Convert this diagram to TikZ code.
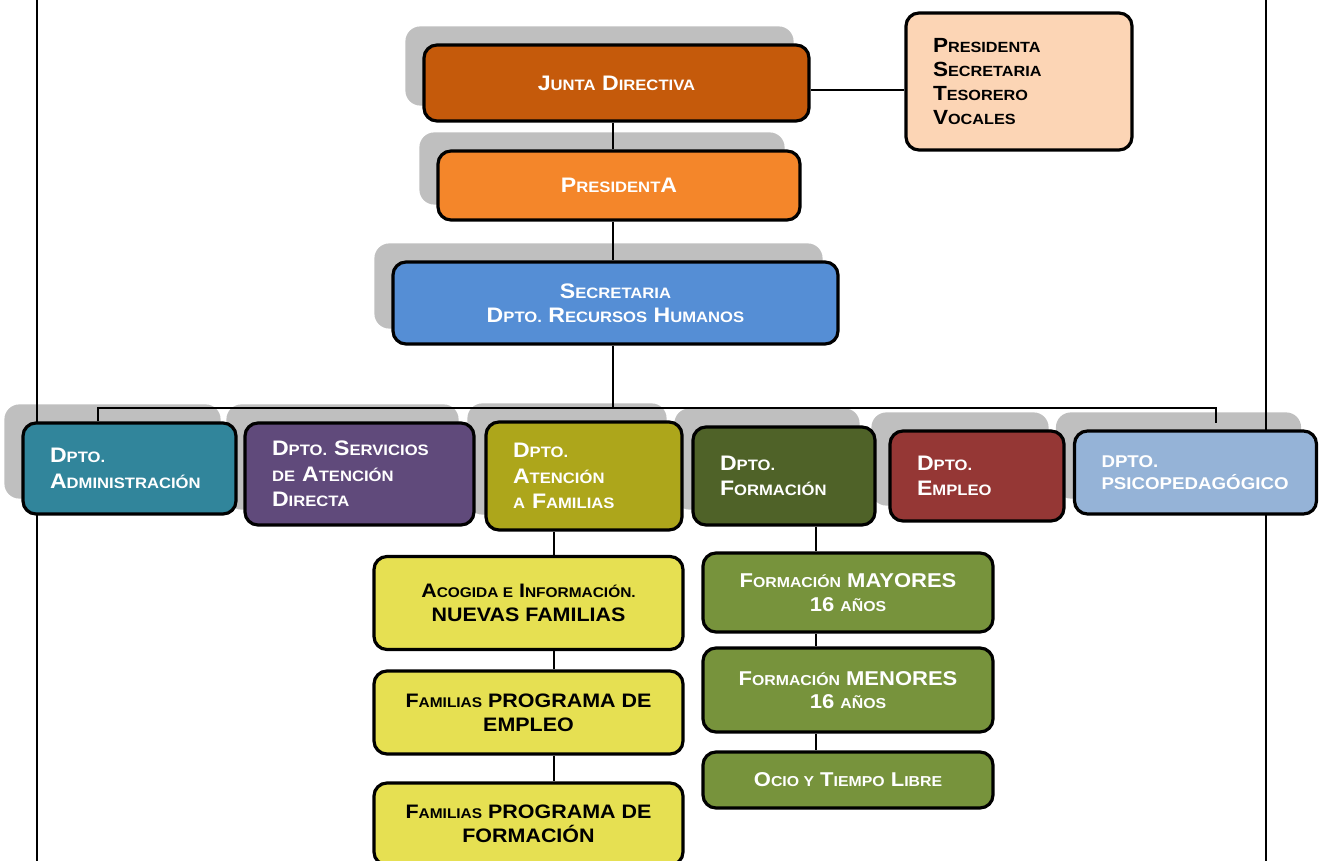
\documentclass[tikz,border=0pt]{standalone}
\usepackage{fontspec}
\usepackage{graphicx}
\setmainfont{Liberation Sans}[FakeStretch=1.1]
\usetikzlibrary{backgrounds}
\definecolor{cJunta}{HTML}{C55A0B}
\definecolor{cPres}{HTML}{F4862A}
\definecolor{cSecr}{HTML}{558ED5}
\definecolor{cPeach}{HTML}{FCD5B5}
\definecolor{cAdmin}{HTML}{31859B}
\definecolor{cServ}{HTML}{604A7B}
\definecolor{cAten}{HTML}{ADA61B}
\definecolor{cForm}{HTML}{4F6228}
\definecolor{cEmpl}{HTML}{953735}
\definecolor{cPsic}{HTML}{95B3D7}
\definecolor{cYel}{HTML}{E6E052}
\definecolor{cGreen}{HTML}{77933C}
\definecolor{cShadow}{HTML}{BFBFBF}
\newcommand\lo[1]{\scalebox{0.72}{#1}}
\begin{document}
\begin{tikzpicture}[x=1pt,y=-1pt,
		box/.style={draw, line width=3.2pt, rounded corners=13pt, text=white, inner sep=0pt},
		topbox/.style={box, align=center, font=\fontsize{21}{24.5}\selectfont\bfseries},
		dept/.style={box, inner xsep=27pt, align=left, font=\fontsize{21}{25.5}\selectfont\bfseries},
		subbox/.style={box, align=center, font=\fontsize{20}{23.5}\selectfont\bfseries},
		link/.style={line width=2.6pt},
		busline/.style={line width=1.5pt}]
		\clip (0,0) rectangle (1322,861);

		\node (junta) [topbox, fill=cJunta, minimum width=385pt, minimum height=76pt] at (616.5,83) {J\lo{UNTA} D\lo{IRECTIVA}};
		\node (pres) [topbox, fill=cPres, minimum width=362pt, minimum height=69pt] at (619,185.5) {P\lo{RESIDENT}A};
		\node (secr) [topbox, fill=cSecr, minimum width=445pt, minimum height=82pt] at (615.5,303) {S\lo{ECRETARIA}\\D\lo{PTO.} R\lo{ECURSOS} H\lo{UMANOS}};
		\node (peach) [dept, fill=cPeach, text=black, text width=172pt, minimum height=137pt, font=\fontsize{20.5}{24.3}\selectfont\bfseries] at (1019,81.5) {P\lo{RESIDENTA}\\S\lo{ECRETARIA}\\T\lo{ESORERO}\\V\lo{OCALES}};

		\node (admin) [dept, fill=cAdmin, text width=159pt, minimum height=91pt] at (129.5,468.5) {D\lo{PTO.}\\A\lo{DMINISTRACIÓN}};
		\node (serv) [dept, fill=cServ, text width=175pt, minimum height=102pt] at (359.5,474) {D\lo{PTO.} S\lo{ERVICIOS}\\\lo{DE} A\lo{TENCIÓN}\\D\lo{IRECTA}};
		\node (aten) [dept, fill=cAten, text width=142pt, minimum height=108pt] at (584,476) {D\lo{PTO.}\\A\lo{TENCIÓN}\\\lo{A} F\lo{AMILIAS}};
		\node (form) [dept, fill=cForm, text width=128pt, minimum height=98pt] at (784,476) {D\lo{PTO.}\\F\lo{ORMACIÓN}};
		\node (empl) [dept, fill=cEmpl, text width=120pt, minimum height=90pt] at (977,476) {D\lo{PTO.}\\E\lo{MPLEO}};
		\node (psic) [dept, fill=cPsic, text width=188pt, minimum height=83pt, font=\fontsize{17}{22}\selectfont\bfseries] at (1195.5,472.5) {DPTO.\\PSICOPEDAGÓGICO};

		\node (acog) [subbox, fill=cYel, text=black, minimum width=309pt, minimum height=93pt, font=\fontsize{19.5}{24}\selectfont\bfseries] at (528.5,603) {A\lo{COGIDA E} I\lo{NFORMACIÓN.}\\NUEVAS FAMILIAS};
		\node (femp) [subbox, fill=cYel, text=black, minimum width=309pt, minimum height=83pt, font=\fontsize{19.5}{24}\selectfont\bfseries] at (528.5,712.5) {F\lo{AMILIAS} PROGRAMA DE\\EMPLEO};
		\node (fform) [subbox, fill=cYel, text=black, minimum width=309pt, minimum height=82pt, font=\fontsize{19.5}{24}\selectfont\bfseries] at (528.5,824) {F\lo{AMILIAS} PROGRAMA DE\\FORMACIÓN};

		\node (may) [subbox, fill=cGreen, minimum width=290pt, minimum height=79pt] at (848,592.5) {F\lo{ORMACIÓN} MAYORES\\16 \lo{AÑOS}};
		\node (men) [subbox, fill=cGreen, minimum width=290pt, minimum height=84pt] at (848,690) {F\lo{ORMACIÓN} MENORES\\16 \lo{AÑOS}};
		\node (ocio) [subbox, fill=cGreen, minimum width=290pt, minimum height=56pt] at (848,780) {O\lo{CIO Y} T\lo{IEMPO} L\lo{IBRE}};

		\coordinate (spine) at (613,0);
		\coordinate (side) at (0,90);
		\coordinate (busL) at (98,408);
		\coordinate (busR) at (1216,408);
		\coordinate (busEnd) at (1216,423);
		\coordinate (famx) at (554,0);
		\coordinate (formx) at (816,0);

		\begin{pgfonlayer}{background}
			\foreach \n in {junta,pres,secr,admin,serv,aten,form,empl,psic}
				\fill [cShadow, rounded corners=15pt] ([shift={(-17,-17)}]\n.south west) rectangle ([shift={(-17,-17)}]\n.north east);
			\draw [line width=2pt] (37,0) -- (37,861);
			\draw [line width=2pt] (1266,0) -- (1266,861);
			\draw [link] (junta.south -| spine) -- (pres.north -| spine);
			\draw [link] (pres.south -| spine) -- (secr.north -| spine);
			\draw [link] (secr.south -| spine) -- (spine |- busL);
			\draw [link, line width=2pt] (junta.east |- side) -- (peach.west |- side);
			\draw [busline] (admin.north -| busL) -- (busL) -- (busR) -- (busEnd);
			\draw [link] (aten.south -| famx) -- (acog.north -| famx);
			\draw [link] (acog.south -| famx) -- (femp.north -| famx);
			\draw [link] (femp.south -| famx) -- (fform.north -| famx);
			\draw [link] (form.south -| formx) -- (may.north -| formx);
			\draw [link] (may.south -| formx) -- (men.north -| formx);
			\draw [link] (men.south -| formx) -- (ocio.north -| formx);
		\end{pgfonlayer}
	\end{tikzpicture}
\end{document}
